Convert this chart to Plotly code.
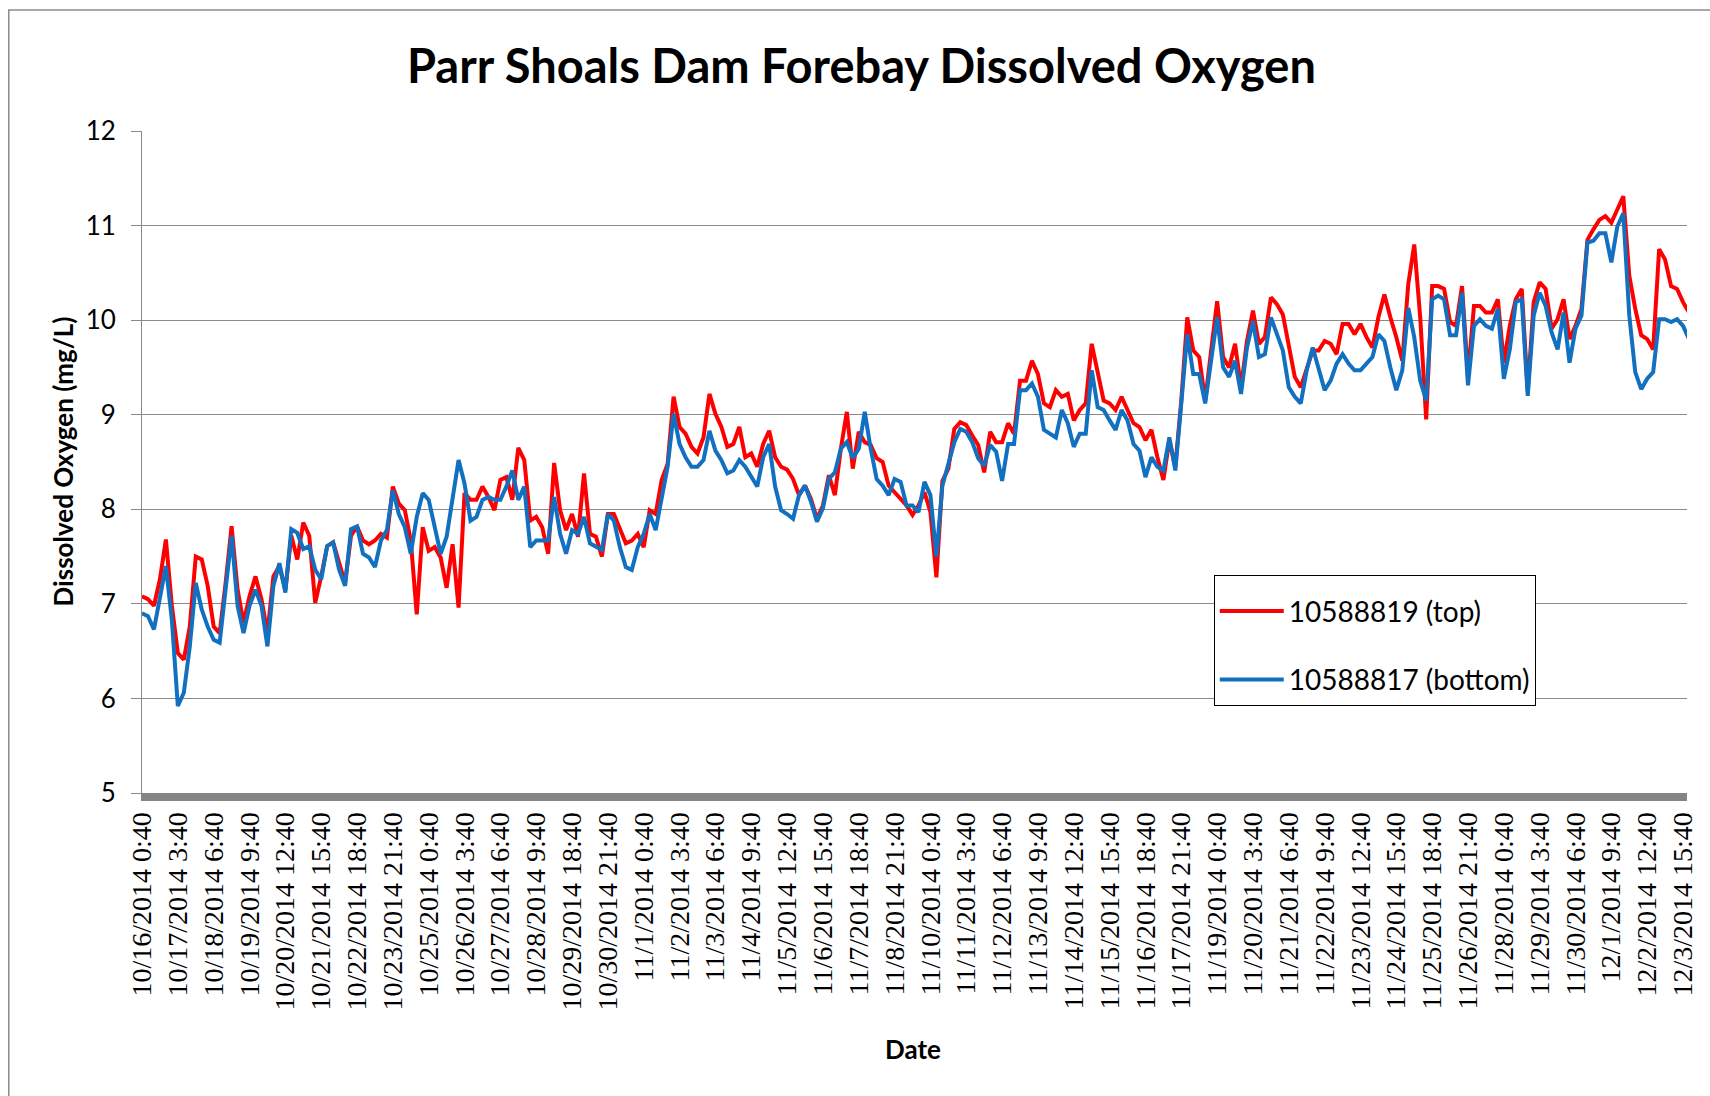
import plotly.graph_objects as go

# ---------------- data ----------------
# Category tick labels (one every 27 hourly records)
tick_labels = [
    "10/16/2014 0:40", "10/17/2014 3:40", "10/18/2014 6:40", "10/19/2014 9:40",
    "10/20/2014 12:40", "10/21/2014 15:40", "10/22/2014 18:40", "10/23/2014 21:40",
    "10/25/2014 0:40", "10/26/2014 3:40", "10/27/2014 6:40", "10/28/2014 9:40",
    "10/29/2014 18:40", "10/30/2014 21:40", "11/1/2014 0:40", "11/2/2014 3:40",
    "11/3/2014 6:40", "11/4/2014 9:40", "11/5/2014 12:40", "11/6/2014 15:40",
    "11/7/2014 18:40", "11/8/2014 21:40", "11/10/2014 0:40", "11/11/2014 3:40",
    "11/12/2014 6:40", "11/13/2014 9:40", "11/14/2014 12:40", "11/15/2014 15:40",
    "11/16/2014 18:40", "11/17/2014 21:40", "11/19/2014 0:40", "11/20/2014 3:40",
    "11/21/2014 6:40", "11/22/2014 9:40", "11/23/2014 12:40", "11/24/2014 15:40",
    "11/25/2014 18:40", "11/26/2014 21:40", "11/28/2014 0:40", "11/29/2014 3:40",
    "11/30/2014 6:40", "12/1/2014 9:40", "12/2/2014 12:40", "12/3/2014 15:40",
]
records_per_label = 27      # hourly records between labelled categories
records_per_sample = 4.5    # the series below are read every 4.5 records

top_values = [
    7.08, 7.05, 6.98, 7.26, 7.68, 6.98, 6.48, 6.41, 6.76, 7.50,
    7.47, 7.19, 6.76, 6.69, 7.22, 7.82, 7.15, 6.80, 7.08, 7.29,
    7.05, 6.69, 7.29, 7.40, 7.15, 7.72, 7.47, 7.86, 7.72, 7.01,
    7.29, 7.61, 7.65, 7.43, 7.22, 7.72, 7.82, 7.67, 7.63, 7.67,
    7.74, 7.70, 8.24, 8.06, 7.99, 7.67, 6.89, 7.81, 7.56, 7.60,
    7.49, 7.17, 7.63, 6.96, 8.17, 8.10, 8.10, 8.24, 8.13, 7.99,
    8.31, 8.34, 8.10, 8.65, 8.52, 7.88, 7.92, 7.81, 7.53, 8.49,
    7.99, 7.78, 7.95, 7.71, 8.38, 7.74, 7.71, 7.50, 7.95, 7.95,
    7.78, 7.64, 7.67, 7.74, 7.60, 7.99, 7.95, 8.31, 8.48, 9.19,
    8.87, 8.80, 8.66, 8.59, 8.76, 9.22, 9.01, 8.87, 8.66, 8.69,
    8.87, 8.55, 8.59, 8.45, 8.69, 8.83, 8.55, 8.45, 8.42, 8.32,
    8.15, 8.25, 8.11, 7.90, 8.04, 8.36, 8.15, 8.64, 9.03, 8.43,
    8.82, 8.71, 8.68, 8.54, 8.50, 8.25, 8.18, 8.11, 8.04, 7.94,
    8.04, 8.18, 7.97, 7.28, 8.30, 8.43, 8.85, 8.92, 8.89, 8.78,
    8.68, 8.39, 8.82, 8.71, 8.71, 8.91, 8.80, 9.36, 9.36, 9.57,
    9.43, 9.12, 9.08, 9.26, 9.19, 9.22, 8.94, 9.05, 9.12, 9.75,
    9.43, 9.15, 9.12, 9.05, 9.19, 9.05, 8.91, 8.87, 8.73, 8.84,
    8.55, 8.31, 8.73, 8.45, 9.15, 10.03, 9.68, 9.61, 9.15, 9.68,
    10.20, 9.61, 9.50, 9.75, 9.29, 9.78, 10.10, 9.75, 9.82, 10.24,
    10.17, 10.06, 9.71, 9.40, 9.29, 9.50, 9.68, 9.68, 9.78, 9.75,
    9.64, 9.96, 9.96, 9.85, 9.96, 9.82, 9.71, 10.03, 10.27, 10.03,
    9.82, 9.57, 10.38, 10.80, 10.03, 8.95, 10.36, 10.36, 10.33, 9.98,
    9.94, 10.36, 9.41, 10.15, 10.15, 10.08, 10.08, 10.22, 9.55, 9.94,
    10.22, 10.33, 9.25, 10.19, 10.40, 10.33, 9.91, 10.01, 10.22, 9.80,
    9.94, 10.12, 10.85, 10.96, 11.06, 11.10, 11.03, 11.17, 11.31, 10.47,
    10.12, 9.84, 9.80, 9.69, 10.75, 10.64, 10.36, 10.33, 10.19, 10.08,
]

bottom_values = [
    6.90, 6.87, 6.73, 7.05, 7.40, 6.83, 5.92, 6.06, 6.55, 7.22,
    6.94, 6.76, 6.62, 6.59, 7.19, 7.72, 6.98, 6.69, 6.98, 7.15,
    6.98, 6.55, 7.19, 7.43, 7.12, 7.79, 7.75, 7.58, 7.61, 7.36,
    7.26, 7.61, 7.65, 7.36, 7.19, 7.79, 7.82, 7.53, 7.49, 7.39,
    7.67, 7.78, 8.20, 7.95, 7.81, 7.53, 7.92, 8.17, 8.10, 7.81,
    7.53, 7.71, 8.10, 8.52, 8.27, 7.88, 7.92, 8.10, 8.13, 8.10,
    8.10, 8.24, 8.41, 8.10, 8.24, 7.60, 7.67, 7.67, 7.67, 8.13,
    7.74, 7.53, 7.78, 7.74, 7.92, 7.64, 7.60, 7.57, 7.95, 7.88,
    7.60, 7.39, 7.36, 7.60, 7.74, 7.95, 7.78, 8.10, 8.45, 9.01,
    8.69, 8.55, 8.45, 8.45, 8.52, 8.83, 8.62, 8.52, 8.38, 8.41,
    8.52, 8.45, 8.34, 8.24, 8.55, 8.69, 8.24, 7.99, 7.95, 7.90,
    8.15, 8.25, 8.08, 7.87, 8.01, 8.32, 8.39, 8.64, 8.71, 8.54,
    8.64, 9.03, 8.64, 8.32, 8.25, 8.15, 8.32, 8.29, 8.04, 8.04,
    7.97, 8.29, 8.15, 7.50, 8.25, 8.50, 8.71, 8.85, 8.82, 8.71,
    8.54, 8.46, 8.68, 8.61, 8.30, 8.69, 8.69, 9.26, 9.26, 9.33,
    9.19, 8.84, 8.80, 8.76, 9.05, 8.91, 8.66, 8.80, 8.80, 9.47,
    9.08, 9.05, 8.94, 8.84, 9.05, 8.94, 8.69, 8.62, 8.34, 8.55,
    8.45, 8.41, 8.76, 8.41, 9.12, 9.85, 9.43, 9.43, 9.12, 9.54,
    10.03, 9.50, 9.40, 9.57, 9.22, 9.71, 9.99, 9.61, 9.64, 10.03,
    9.86, 9.68, 9.29, 9.19, 9.12, 9.47, 9.71, 9.50, 9.26, 9.36,
    9.54, 9.64, 9.54, 9.47, 9.47, 9.54, 9.61, 9.85, 9.78, 9.50,
    9.26, 9.47, 10.13, 9.82, 9.36, 9.15, 10.22, 10.26, 10.22, 9.84,
    9.84, 10.29, 9.31, 9.94, 10.01, 9.94, 9.91, 10.12, 9.38, 9.69,
    10.19, 10.22, 9.20, 10.05, 10.29, 10.15, 9.87, 9.69, 10.08, 9.55,
    9.91, 10.05, 10.82, 10.84, 10.92, 10.92, 10.61, 10.99, 11.13, 10.05,
    9.45, 9.27, 9.38, 9.45, 10.01, 10.01, 9.98, 10.01, 9.94, 9.80,
]

series_names = ["10588819 (top)", "10588817 (bottom)"]
series_colors = ["#FF0000", "#1170C0"]

# ---------------- figure ----------------
W, H = 1710, 1096
L, R, T, B = 142, 14, 131, 303
pw, ph = W - L - R, H - T - B


def px_x(p):
    return (p - L) / pw


def px_y(p):
    return (H - B - p) / ph


x_top = [i * records_per_sample for i in range(len(top_values))]
x_bot = [i * records_per_sample for i in range(len(bottom_values))]

fig = go.Figure()
fig.add_trace(go.Scatter(x=x_top, y=top_values, mode="lines", name=series_names[0],
                         legendgroup="a",
                         line=dict(color=series_colors[0], width=4)))
fig.add_trace(go.Scatter(x=x_bot, y=bottom_values, mode="lines", name=series_names[1],
                         legendgroup="b",
                         line=dict(color=series_colors[1], width=4)))

tickvals = [i * records_per_label for i in range(len(tick_labels))]
last_x = tickvals[-1] * (pw) / (1692 - L)

fig.update_layout(
    width=W, height=H,
    margin=dict(l=L, r=R, t=T, b=B, pad=0),
    paper_bgcolor="white", plot_bgcolor="white",
    showlegend=True,
    legend=dict(
        x=px_x(1220), y=px_y(575), xanchor="left", yanchor="top",
        bgcolor="white", bordercolor="black", borderwidth=1,
        font=dict(family="Lato", size=28, color="black"),
        title=dict(text=" ", font=dict(size=8)),
        tracegroupgap=29, itemwidth=64,
    ),
    xaxis=dict(
        range=[0, last_x],
        tickvals=tickvals, ticktext=tick_labels,
        tickangle=-90, ticks="",
        tickfont=dict(family="Liberation Serif", size=28, color="black"),
        showgrid=False, zeroline=False,
        showline=True, linecolor="#858585", linewidth=8,
    ),
    yaxis=dict(
        range=[5, 12], dtick=1, tick0=5,
        showgrid=True, gridcolor="#8a8a8a", gridwidth=1,
        zeroline=False,
        showline=True, linecolor="#8a8a8a", linewidth=1,
        ticks="outside", ticklen=10, tickcolor="#8a8a8a",
        ticklabelstandoff=10,
        tickfont=dict(family="Lato", size=26, color="black"),
    ),
    annotations=[
        dict(text="<b>Parr Shoals Dam Forebay Dissolved Oxygen</b>",
             xref="paper", yref="paper", x=px_x(866), y=px_y(65),
             xanchor="center", yanchor="middle", showarrow=False,
             font=dict(family="Lato", size=47, color="black")),
        dict(text="<b>Dissolved Oxygen (mg/L)</b>",
             xref="paper", yref="paper", x=px_x(63), y=px_y(461),
             xanchor="center", yanchor="middle", showarrow=False, textangle=-90,
             font=dict(family="Lato", size=26, color="black")),
        dict(text="<b>Date</b>",
             xref="paper", yref="paper", x=px_x(917), y=px_y(1049),
             xanchor="center", yanchor="middle", showarrow=False,
             font=dict(family="Lato", size=26, color="black")),
    ],
    shapes=[
        dict(type="rect", xref="paper", yref="paper",
             x0=px_x(8), x1=px_x(1730), y0=px_y(10), y1=px_y(1120),
             line=dict(color="#8c8c8c", width=1.5), fillcolor="rgba(0,0,0,0)",
             layer="below"),
    ],
)

fig.write_html("out.html", config={"displayModeBar": False},
               post_script="document.body.style.margin='0';")
